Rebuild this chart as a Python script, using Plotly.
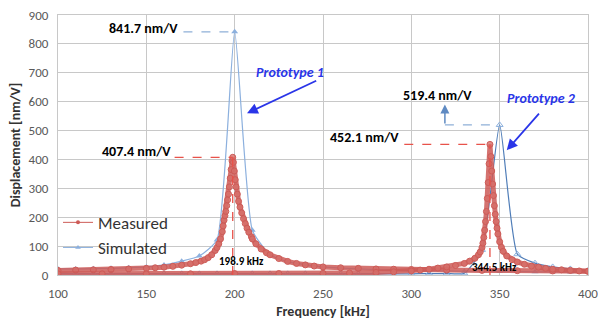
import plotly.graph_objects as go

# ---------------- data ----------------
# Prototype 1 measured (kHz, nm/V)
m1_x = [100, 110, 120, 130, 140, 150, 155, 160, 165, 170, 175, 178, 181, 183, 185, 187, 189, 190,
        191, 192, 193, 193.5, 194, 194.5, 195, 195.5, 196, 196.5, 197, 197.5, 198, 198.5, 198.9,
        199.3, 199.8, 200.3, 200.8, 201.5, 202.2, 203, 204, 205, 206, 207, 208, 209.5,
        210, 212, 215, 218, 220, 225, 230, 235, 240, 245, 250, 260, 270, 280, 290, 300, 320,
        340, 360, 380, 400]
m1_y = [16, 17, 18, 19, 21, 23, 25, 27, 30, 34, 39, 43, 48, 53, 60, 70, 85, 95,
        108, 125, 150, 170, 190, 205, 220, 240, 260, 280, 305, 335, 365, 395, 407.4,
        390, 360, 330, 305, 280, 255, 235, 215, 195, 178, 162, 148, 132,
        125, 108, 90, 77, 70, 57, 47, 40, 35, 31, 28, 25, 23, 21, 20, 19, 17,
        16, 15, 14, 13]

# Prototype 2 measured
m2_x = [100, 125, 150, 175, 200, 225, 250, 265, 280, 290, 300, 305, 310, 315, 320, 325, 330, 333,
        336, 338, 339, 340, 340.5, 341, 341.5, 342, 342.5, 343, 343.5, 344, 344.5, 345, 345.5, 346,
        346.5, 347, 347.5, 348, 348.5, 349, 350, 351, 352, 354, 357, 360, 364, 368, 372, 376,
        380, 385, 390, 395, 400]
m2_y = [4, 4, 4, 4, 5, 5, 6, 7, 9, 11, 14, 17, 20, 24, 28, 33, 40, 48,
        58, 70, 80, 95, 110, 130, 155, 185, 220, 265, 320, 385, 452.1, 410, 360, 315,
        275, 240, 210, 185, 162, 142, 115, 96, 82, 66, 53, 45, 37, 31, 27, 23,
        20, 18, 16, 14, 13]

# Simulated (every 10 kHz)
s_x = [100, 110, 120, 130, 140, 150, 160, 170, 180, 190, 200, 210, 220, 230, 240, 250, 260,
       270, 280, 290, 300, 310, 320, 330, 340, 350, 360, 370, 380, 390, 400]
s1_y = [21, 21, 22, 23, 25, 28, 35, 48, 66, 121, 841.7, 155, 70, 46, 36, 28, 24,
        21, 19, 17, 16, 15, 14, 13, 13, 12, 12, 11, 11, 10, 10]
s2_y = [4, 4, 4, 4, 4, 4, 4, 4, 4, 4, 4, 4, 4, 4, 4, 4, 4,
        4, 4, 4, 4, 5, 5, 6, 87, 519.4, 72, 41, 28, 21, 15]

peak1_f, peak1_v = 198.9, 407.4
peak2_f, peak2_v = 344.5, 452.1
sim1_f, sim1_v = 200, 841.7
sim2_f, sim2_v = 350, 519.4

RED = "#cd5b57"
LBLUE = "#8cb0de"
DBLUE = "#4f7db8"
ABLUE = "#2a35e8"
FONT = "Carlito, Lato, sans-serif"

fig = go.Figure()

# simulated curves
fig.add_trace(go.Scatter(x=s_x, y=s1_y, mode="lines+markers", showlegend=False,
                         line=dict(color=LBLUE, width=1.2, shape="spline", smoothing=0.5),
                         marker=dict(symbol="triangle-up", size=6, color=LBLUE)))
fig.add_trace(go.Scatter(x=s_x, y=s2_y, mode="lines+markers", showlegend=False,
                         line=dict(color=DBLUE, width=1.2, shape="spline", smoothing=0.5),
                         marker=dict(symbol="triangle-up-open", size=6, color=LBLUE)))

# measured curves
for mx, my in ((m1_x, m1_y), (m2_x, m2_y)):
    fig.add_trace(go.Scatter(x=mx, y=my, mode="lines+markers", showlegend=False,
                             line=dict(color="rgba(205,91,87,0.85)", width=5),
                             marker=dict(symbol="circle", size=6, color="rgba(214,110,105,0.8)",
                                         line=dict(color=RED, width=1))))

# legend-only traces
fig.add_trace(go.Scatter(x=[None], y=[None], mode="lines+markers", name="Measured",
                         line=dict(color=RED, width=1),
                         marker=dict(symbol="circle", size=4, color=RED)))
fig.add_trace(go.Scatter(x=[None], y=[None], mode="lines+markers", name="Simulated",
                         line=dict(color=LBLUE, width=1),
                         marker=dict(symbol="triangle-up", size=5, color=LBLUE)))

# dashed guide lines
dash_r = dict(color="#e8524a", width=1.3, dash="dash")
dash_b = dict(color="#8fb0d8", width=1.3, dash="dash")
fig.add_shape(type="line", x0=166, x1=peak1_f, y0=peak1_v, y1=peak1_v, line=dash_r)
fig.add_shape(type="line", x0=peak1_f, x1=peak1_f, y0=0, y1=peak1_v, line=dash_r)
fig.add_shape(type="line", x0=296, x1=peak2_f, y0=peak2_v, y1=peak2_v, line=dash_r)
fig.add_shape(type="line", x0=peak2_f, x1=peak2_f, y0=0, y1=peak2_v, line=dash_r)
fig.add_shape(type="line", x0=171, x1=sim1_f, y0=sim1_v, y1=sim1_v, line=dash_b)
fig.add_shape(type="line", x0=319, x1=sim2_f, y0=sim2_v, y1=sim2_v, line=dash_b)

ann = []
def lab(x, y, t, size=14, anchor="right", color="black", bold=True, italic=False):
    s = t
    if bold:
        s = "<b>" + s + "</b>"
    if italic:
        s = "<i>" + s + "</i>"
    ann.append(dict(x=x, y=y, text=s, showarrow=False, xanchor=anchor, yanchor="middle",
                    font=dict(family=FONT, size=size, color=color)))

lab(169, sim1_v + 10, f"{sim1_v} nm/V")
lab(165, peak1_v + 20, f"{peak1_v} nm/V")
lab(294, peak2_v + 25, f"{peak2_v} nm/V")
lab(315, 623, f"{sim2_v} nm/V", anchor="center")
lab(204, 48, f"{peak1_f} kHz", size=11, anchor="center")
lab(347, 25, f"{peak2_f} kHz", size=11, anchor="center")
lab(231.5, 702, "Prototype 1", size=14, anchor="center", color=ABLUE, italic=True)
lab(373.6, 612, "Prototype 2", size=14, anchor="center", color=ABLUE, italic=True)

# arrows
for (x, y, ax, ay, col, w) in ((207, 560, 247, 675, ABLUE, 1.8),
                               (354, 432, 373, 564, ABLUE, 1.8),
                               (319, 590, 319, sim2_v, "#5f8ac2", 1.5)):
    ann.append(dict(x=x, y=y, ax=ax, ay=ay, axref="x", ayref="y", xref="x", yref="y",
                    text="", showarrow=True, arrowhead=2, arrowsize=1.2,
                    arrowwidth=w, arrowcolor=col))

fig.update_layout(
    width=598, height=320,
    margin=dict(l=58, r=10, t=15, b=45),
    paper_bgcolor="white", plot_bgcolor="white",
    font=dict(family=FONT, size=13, color="#595959"),
    annotations=ann,
    legend=dict(x=0.0, y=0.27, xanchor="left", yanchor="top", bgcolor="rgba(0,0,0,0)",
                font=dict(family=FONT, size=17, color="#333333"),
                tracegroupgap=0, itemwidth=30),
    xaxis=dict(range=[100, 400], dtick=50, showgrid=True, gridcolor="#c8c8c8", gridwidth=1,
               showline=True, linecolor="#c8c8c8", mirror=True, zeroline=False,
               automargin=False, ticklabelstandoff=6, ticklabeloverflow="allow",
               ticks="", tickfont=dict(size=13, color="#595959"),
               title=dict(text="<b>Frequency [kHz]</b>", standoff=8,
                          font=dict(size=14, color="#333333"))),
    yaxis=dict(range=[0, 900], dtick=100, showgrid=True, gridcolor="#c8c8c8", gridwidth=1,
               showline=True, linecolor="#c8c8c8", mirror=True, zeroline=False,
               automargin=False, ticklabelstandoff=6, ticklabeloverflow="allow",
               ticks="", tickfont=dict(size=13, color="#595959"),
               title=dict(text="<b>Displacement [nm/V]</b>", standoff=4,
                          font=dict(size=14, color="#333333"))),
)

fig.write_html("out.html", config={"displayModeBar": False},
               post_script="document.body.style.margin='0px';")
